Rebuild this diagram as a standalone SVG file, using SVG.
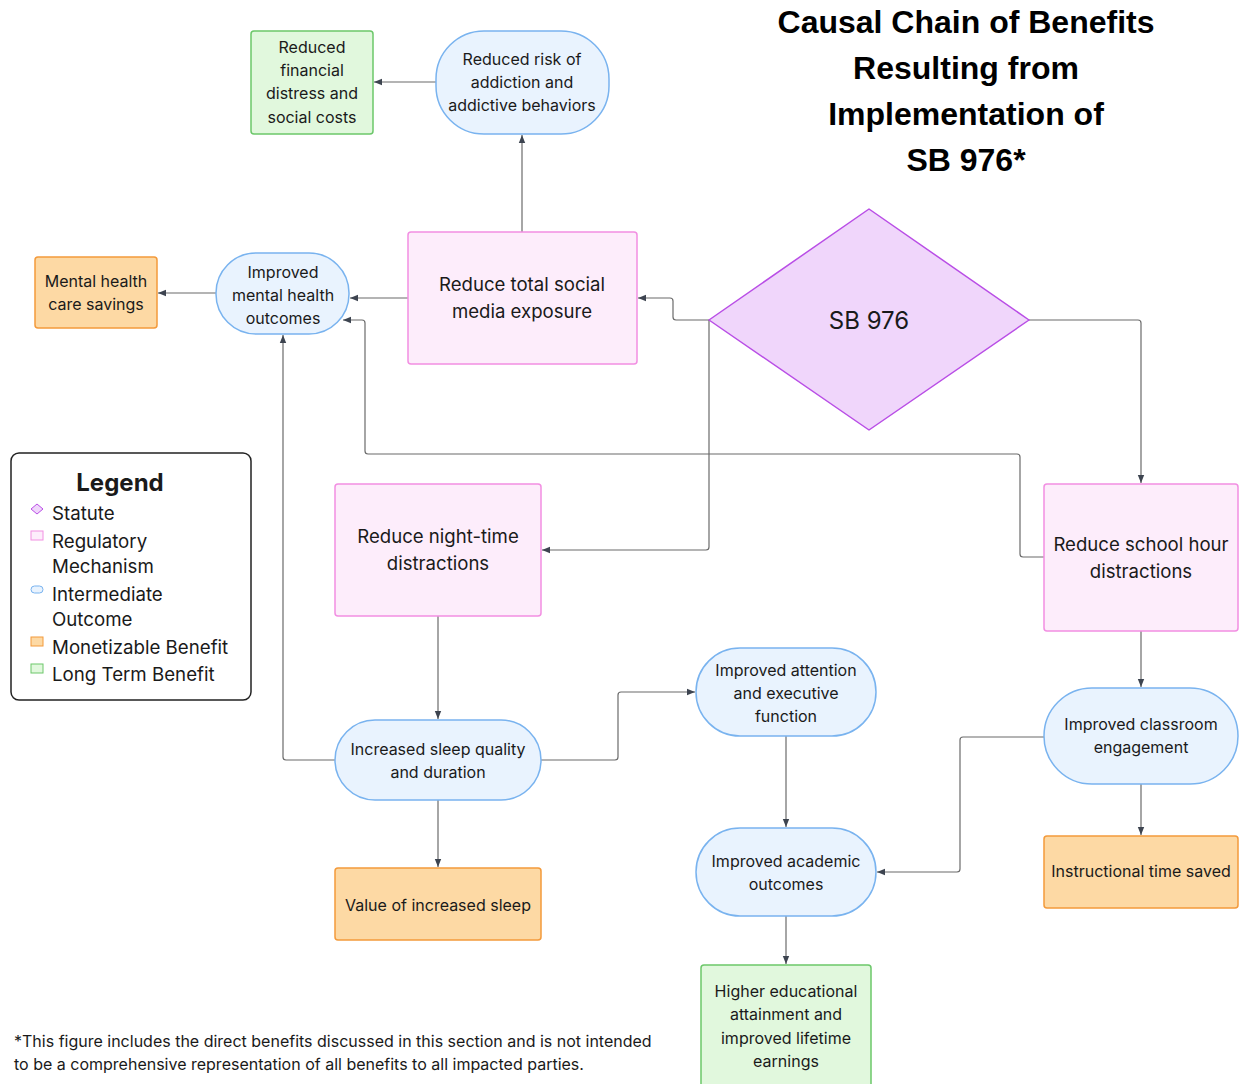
<svg xmlns="http://www.w3.org/2000/svg" width="1243" height="1084" viewBox="0 0 1243 1084">
<defs>
<marker id="arr" viewBox="0 0 10 10" refX="10" refY="5" markerWidth="8" markerHeight="8" markerUnits="userSpaceOnUse" orient="auto">
<path d="M0,1 L10,5 L0,9 z" fill="#3d4450"/>
</marker>
<style>
text{font-family:Inter,"Noto Sans","Liberation Sans",sans-serif;fill:#1a1a1a;text-anchor:middle}
.s{font-size:16px}
.m{font-size:18.6px}
.pink{fill:#fdedfb;stroke:#f28fe2;stroke-width:1.5}
.blue{fill:#e9f3fe;stroke:#79b3ef;stroke-width:1.5}
.orange{fill:#fdd9a4;stroke:#f39a3b;stroke-width:1.5}
.green{fill:#e1f8dd;stroke:#6cc76a;stroke-width:1.5}
.dia{fill:#f0d6fb;stroke:#b94ee6;stroke-width:1.5}
.c{fill:none;stroke:#6b6b6b;stroke-width:1.2;marker-end:url(#arr)}
.title{font-family:"Liberation Sans",Arial,sans-serif;font-weight:bold;font-size:32px;fill:#000}
.lg{font-size:18.7px;text-anchor:start}
</style>
</defs>
<rect width="1243" height="1084" fill="#fff"/>

<g id="title">
<text class="title" x="966" y="33">Causal Chain of Benefits</text>
<text class="title" x="966" y="79">Resulting from</text>
<text class="title" x="966" y="125">Implementation of</text>
<text class="title" x="966" y="171">SB 976*</text>
</g>

<g id="connectors">
<path class="c" d="M436,82 H374"/>
<path class="c" d="M522,232 V135"/>
<path class="c" d="M408,298 H350"/>
<path class="c" d="M216,293 H158"/>
<path class="c" d="M709,320 H676 Q673,320 673,317 V301 Q673,298 670,298 H638"/>
<path class="c" d="M709,320 V547 Q709,550 706,550 H542"/>
<path class="c" d="M1029,320 H1138 Q1141,320 1141,323 V483"/>
<path class="c" d="M1044,557 H1023 Q1020,557 1020,554 V457 Q1020,454 1017,454 H368 Q365,454 365,451 V323 Q365,320 362,320 H343"/>
<path class="c" d="M438,616 V719"/>
<path class="c" d="M335,760 H286 Q283,760 283,757 V335"/>
<path class="c" d="M541,760 H615 Q618,760 618,757 V695 Q618,692 621,692 H695"/>
<path class="c" d="M438,800 V867"/>
<path class="c" d="M786,736 V827"/>
<path class="c" d="M1044,737 H963 Q960,737 960,740 V869 Q960,872 957,872 H877"/>
<path class="c" d="M1141,631 V687"/>
<path class="c" d="M1141,784 V835"/>
<path class="c" d="M786,916 V964"/>
</g>

<g id="n-financial">
<rect class="green" x="251" y="31" width="122" height="103" rx="3"/>
<text class="s" x="312" y="53">Reduced</text>
<text class="s" x="312" y="76">financial</text>
<text class="s" x="312" y="99">distress and</text>
<text class="s" x="312" y="123">social costs</text>
</g>

<g id="n-addiction">
<rect class="blue" x="436" y="31" width="173" height="103" rx="48"/>
<text class="s" x="522" y="65">Reduced risk of</text>
<text class="s" x="522" y="88">addiction and</text>
<text class="s" x="522" y="111">addictive behaviors</text>
</g>

<g id="n-savings">
<rect class="orange" x="35" y="257" width="122" height="71" rx="3"/>
<text class="s" x="96" y="287">Mental health</text>
<text class="s" x="96" y="310">care savings</text>
</g>

<g id="n-mental">
<rect class="blue" x="216" y="253" width="133" height="81" rx="40"/>
<text class="s" x="283" y="278">Improved</text>
<text class="s" x="283" y="301">mental health</text>
<text class="s" x="283" y="324">outcomes</text>
</g>

<g id="n-social">
<rect class="pink" x="408" y="232" width="229" height="132" rx="3"/>
<text class="m" x="522" y="291">Reduce total social</text>
<text class="m" x="522" y="318">media exposure</text>
</g>

<g id="n-sb976">
<path class="dia" d="M869,209 L1029,320 L869,430 L709,320 Z" stroke-linejoin="round"/>
<text x="869" y="329" style="font-size:24px">SB 976</text>
</g>

<g id="n-night">
<rect class="pink" x="335" y="484" width="206" height="132" rx="3"/>
<text class="m" x="438" y="543">Reduce night-time</text>
<text class="m" x="438" y="570">distractions</text>
</g>

<g id="n-school">
<rect class="pink" x="1044" y="484" width="194" height="147" rx="3"/>
<text class="m" x="1141" y="551">Reduce school hour</text>
<text class="m" x="1141" y="578">distractions</text>
</g>

<g id="n-sleep">
<rect class="blue" x="335" y="720" width="206" height="80" rx="40"/>
<text class="s" x="438" y="755">Increased sleep quality</text>
<text class="s" x="438" y="778">and duration</text>
</g>

<g id="n-value">
<rect class="orange" x="335" y="868" width="206" height="72" rx="3"/>
<text class="s" x="438" y="911">Value of increased sleep</text>
</g>

<g id="n-attention">
<rect class="blue" x="696" y="648" width="180" height="88" rx="44"/>
<text class="s" x="786" y="676">Improved attention</text>
<text class="s" x="786" y="699">and executive</text>
<text class="s" x="786" y="722">function</text>
</g>

<g id="n-academic">
<rect class="blue" x="696" y="828" width="180" height="88" rx="44"/>
<text class="s" x="786" y="867">Improved academic</text>
<text class="s" x="786" y="890">outcomes</text>
</g>

<g id="n-classroom">
<rect class="blue" x="1044" y="688" width="194" height="96" rx="48"/>
<text class="s" x="1141" y="730">Improved classroom</text>
<text class="s" x="1141" y="753">engagement</text>
</g>

<g id="n-instructional">
<rect class="orange" x="1044" y="836" width="194" height="72" rx="3"/>
<text class="s" x="1141" y="877">Instructional time saved</text>
</g>

<g id="n-higher">
<rect class="green" x="701" y="965" width="170" height="122" rx="3"/>
<text class="s" x="786" y="997">Higher educational</text>
<text class="s" x="786" y="1020">attainment and</text>
<text class="s" x="786" y="1044">improved lifetime</text>
<text class="s" x="786" y="1067">earnings</text>
</g>

<g id="legend">
<rect x="11" y="453" width="240" height="247" rx="8" fill="#fff" stroke="#222" stroke-width="1.5"/>
<text x="120" y="491" style="font-size:24px;font-weight:bold">Legend</text>
<path d="M37,504 L43,509 L37,514 L31,509 Z" fill="#f0d6fb" stroke="#b94ee6" stroke-width="1"/>
<text class="lg" x="52" y="520">Statute</text>
<rect x="31" y="531" width="12" height="9" fill="#fdedfb" stroke="#f28fe2" stroke-width="1"/>
<text class="lg" x="52" y="548">Regulatory</text>
<text class="lg" x="52" y="573">Mechanism</text>
<rect x="31" y="586" width="12" height="7" rx="3.5" fill="#e9f3fe" stroke="#79b3ef" stroke-width="1"/>
<text class="lg" x="52" y="601">Intermediate</text>
<text class="lg" x="52" y="626">Outcome</text>
<rect x="31" y="637" width="12" height="9" fill="#fdd9a4" stroke="#f39a3b" stroke-width="1"/>
<text class="lg" x="52" y="654">Monetizable Benefit</text>
<rect x="31" y="664" width="12" height="9" fill="#e1f8dd" stroke="#6cc76a" stroke-width="1"/>
<text class="lg" x="52" y="681">Long Term Benefit</text>
</g>

<g id="footnote">
<text x="14" y="1047" style="font-size:16px;text-anchor:start">*This figure includes the direct benefits discussed in this section and is not intended</text>
<text x="14" y="1070" style="font-size:16px;text-anchor:start">to be a comprehensive representation of all benefits to all impacted parties.</text>
</g>
</svg>
